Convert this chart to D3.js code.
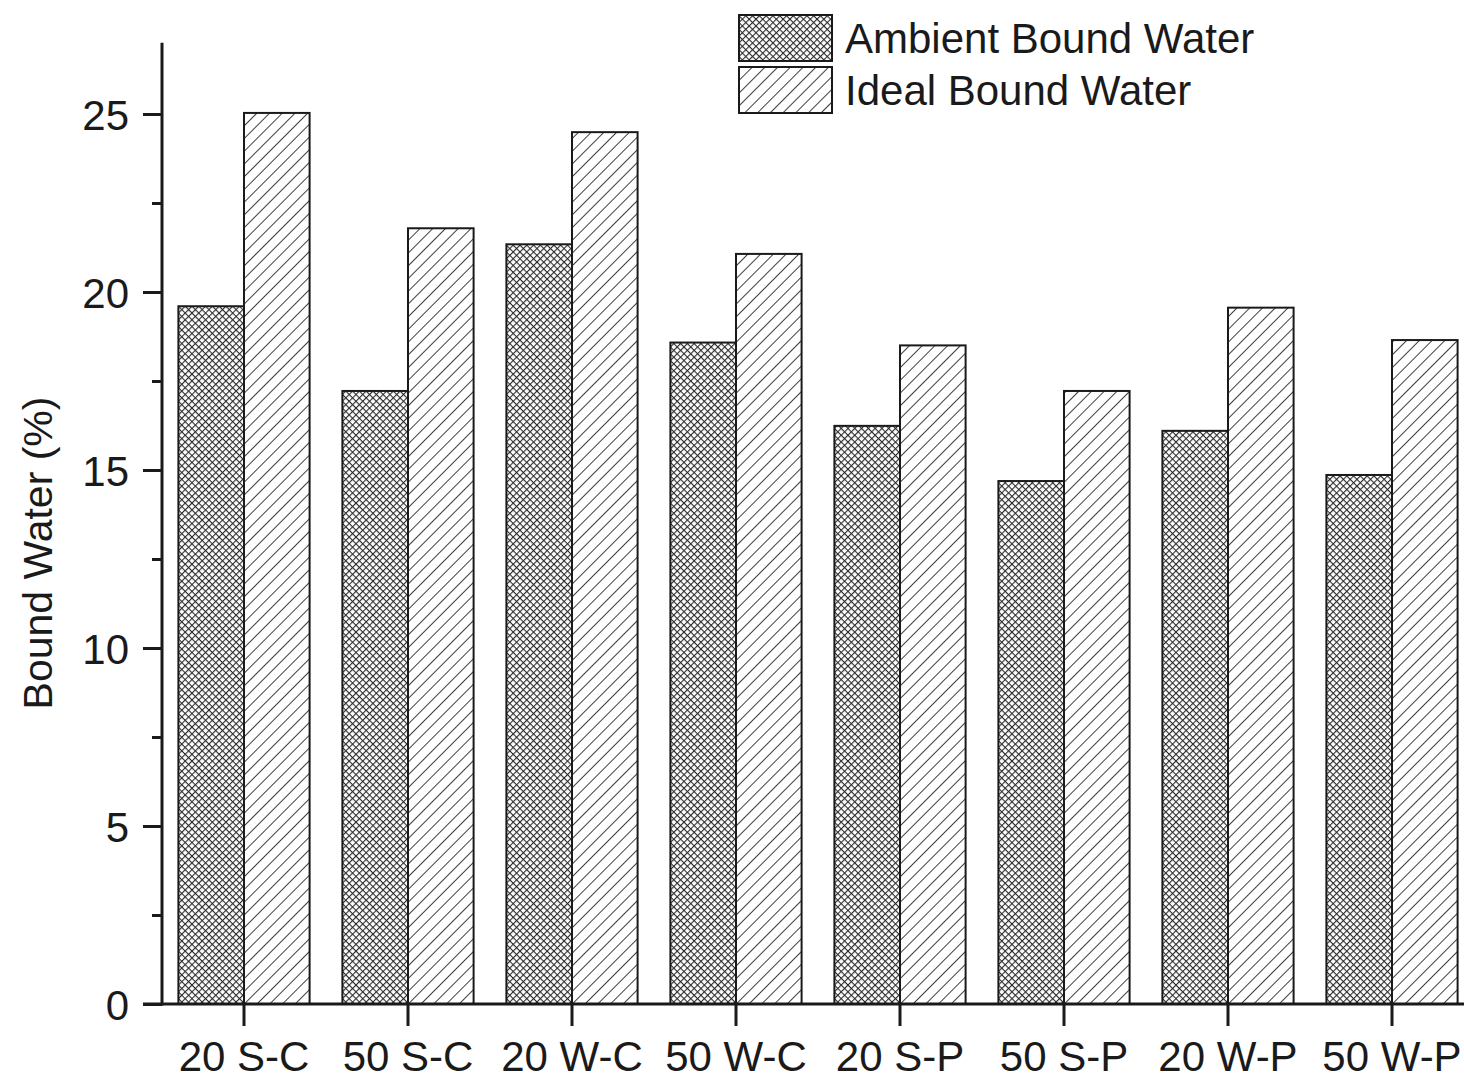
<!DOCTYPE html>
<html>
<head>
<meta charset="utf-8">
<script src="https://cdn.jsdelivr.net/npm/d3@7"></script>
<style>
  body { margin: 0; background: #fff; }
  svg { display: block; }
  text { font-family: "Liberation Sans", Arial, sans-serif; fill: #1a1a1a; }
</style>
</head>
<body>
<svg width="1464" height="1080"></svg>
<script>
const categories = ['20 S-C', '50 S-C', '20 W-C', '50 W-C', '20 S-P', '50 S-P', '20 W-P', '50 W-P'];
const seriesNames = ['Ambient Bound Water', 'Ideal Bound Water'];
const ambient = [19.6, 17.22, 21.34, 18.58, 16.24, 14.69, 16.1, 14.86];
const ideal = [25.03, 21.79, 24.49, 21.07, 18.5, 17.22, 19.56, 18.65];
const yTicks = [0, 5, 10, 15, 20, 25];
const yMinorTicks = [2.5, 7.5, 12.5, 17.5, 22.5];

const svg = d3.select('svg');
const width = +svg.attr('width');
const ink = '#1a1a1a';

const axisX = 162, baseY = 1004;

// patterns
const defs = svg.append('defs');
const cross = defs.append('pattern')
  .attr('id', 'cross')
  .attr('patternUnits', 'userSpaceOnUse')
  .attr('width', 4.8).attr('height', 4.8)
  .attr('patternTransform', 'rotate(45)');
cross.append('rect').attr('width', 4.8).attr('height', 4.8).attr('fill', '#fff');
cross.append('line').attr('x1', 0).attr('y1', 0).attr('x2', 0).attr('y2', 4.8)
  .attr('stroke', '#2a2a2a').attr('stroke-width', 2.2);
cross.append('line').attr('x1', 0).attr('y1', 0).attr('x2', 4.8).attr('y2', 0)
  .attr('stroke', '#2a2a2a').attr('stroke-width', 2.2);

const hatch = defs.append('pattern')
  .attr('id', 'hatch')
  .attr('patternUnits', 'userSpaceOnUse')
  .attr('width', 9).attr('height', 9)
  .attr('patternTransform', 'rotate(45)');
hatch.append('rect').attr('width', 9).attr('height', 9).attr('fill', '#fff');
hatch.append('line').attr('x1', 0).attr('y1', 0).attr('x2', 0).attr('y2', 9)
  .attr('stroke', '#2a2a2a').attr('stroke-width', 1.8);

const fills = ['url(#cross)', 'url(#hatch)'];

const x = d3.scaleBand()
  .domain(categories)
  .range([axisX, axisX + 164 * 8])
  .paddingInner(0.2)
  .paddingOuter(0.1);

const xSub = d3.scaleBand()
  .domain(seriesNames)
  .range([0, x.bandwidth()]);

const y = d3.scaleLinear()
  .domain([0, 27])
  .range([baseY, baseY - 27 * 35.6]);

const data = categories.map((c, i) => ({ cat: c, values: [ambient[i], ideal[i]] }));

// bars
const groups = svg.append('g').selectAll('g').data(data)
  .enter().append('g')
    .attr('transform', d => `translate(${x(d.cat)},0)`);

groups.selectAll('rect')
  .data(d => d.values.map((v, k) => ({ key: seriesNames[k], value: v, k })))
  .enter().append('rect')
    .attr('x', d => xSub(d.key))
    .attr('y', d => y(d.value))
    .attr('width', xSub.bandwidth())
    .attr('height', d => baseY - y(d.value))
    .attr('fill', d => fills[d.k])
    .attr('stroke', ink)
    .attr('stroke-width', 2);

// y axis
const yAxis = d3.axisLeft(y)
  .tickValues(yTicks)
  .tickSize(19)
  .tickPadding(14)
  .tickFormat(d3.format('d'));

const yAxisG = svg.append('g')
  .attr('transform', `translate(${axisX},0)`)
  .call(yAxis);
yAxisG.select('.domain').remove();
yAxisG.selectAll('.tick line').attr('stroke', ink).attr('stroke-width', 3);
yAxisG.selectAll('.tick text')
  .attr('font-size', 42)
  .attr('fill', ink)
  .attr('dy', '0.36em');

svg.append('g')
  .attr('transform', `translate(${axisX},0)`)
  .call(d3.axisLeft(y).tickValues(yMinorTicks).tickSize(10).tickFormat(''))
  .call(g => g.select('.domain').remove())
  .selectAll('.tick line').attr('stroke', ink).attr('stroke-width', 3);

svg.append('line')
  .attr('x1', axisX).attr('x2', axisX)
  .attr('y1', y(27)).attr('y2', baseY + 1.5)
  .attr('stroke', ink).attr('stroke-width', 3);

// x axis
const xCenter = d => x(d) + x.bandwidth() / 2;
svg.append('line')
  .attr('x1', 143).attr('x2', width)
  .attr('y1', baseY).attr('y2', baseY)
  .attr('stroke', ink).attr('stroke-width', 3);

const xTicks = svg.append('g').selectAll('g').data(categories)
  .enter().append('g')
    .attr('transform', d => `translate(${xCenter(d)},${baseY})`);
xTicks.append('line')
  .attr('y2', 22)
  .attr('stroke', ink).attr('stroke-width', 3);
xTicks.append('text')
  .attr('y', 67)
  .attr('text-anchor', 'middle')
  .attr('font-size', 42)
  .text(d => d);

// y label
svg.append('text')
  .attr('transform', `translate(52,553) rotate(-90)`)
  .attr('text-anchor', 'middle')
  .attr('font-size', 41)
  .text('Bound Water (%)');

// legend
const legend = svg.append('g').attr('transform', 'translate(739,15)');
const li = legend.selectAll('g').data(seriesNames)
  .enter().append('g')
    .attr('transform', (d, i) => `translate(0,${i * 52})`);
li.append('rect')
  .attr('width', 93).attr('height', 46)
  .attr('fill', (d, i) => fills[i])
  .attr('stroke', ink).attr('stroke-width', 2);
li.append('text')
  .attr('x', 106).attr('y', 38)
  .attr('font-size', 42)
  .text(d => d);
</script>
</body>
</html>
